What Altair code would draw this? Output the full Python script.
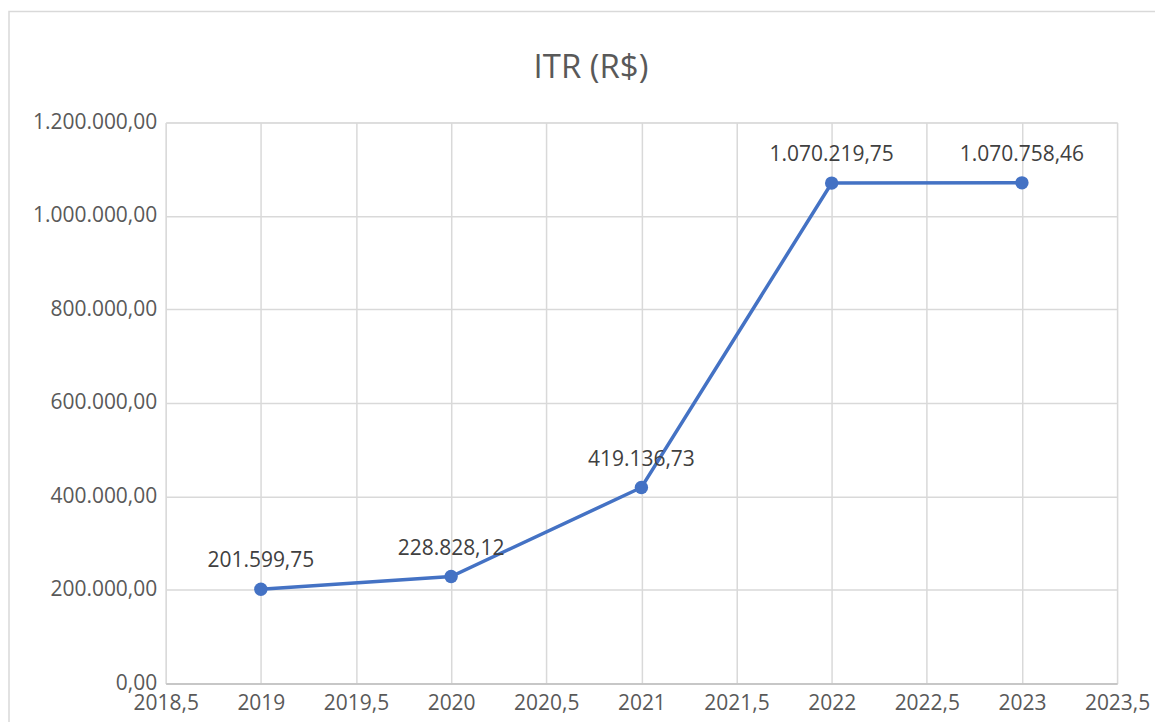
import altair as alt
import pandas as pd

years = [2019, 2020, 2021, 2022, 2023]
values = [201599.75, 228828.12, 419136.73, 1070219.75, 1070758.46]
labels = ["201.599,75", "228.828,12", "419.136,73", "1.070.219,75", "1.070.758,46"]
x_ticks = [2018.5, 2019, 2019.5, 2020, 2020.5, 2021, 2021.5, 2022, 2022.5, 2023, 2023.5]
y_ticks = [0, 200000, 400000, 600000, 800000, 1000000, 1200000]
title_text = "ITR (R$)"

df = pd.DataFrame({"ano": years, "valor": values, "rotulo": labels})

FONT = "Open Sans"
BLUE = "#4472C4"

x_enc = alt.X(
    "ano:Q",
    scale=alt.Scale(domain=[2018.5, 2023.5], nice=False, zero=False),
    axis=alt.Axis(
        values=x_ticks,
        title=None,
        labelExpr="replace(toString(datum.value), '.', ',')",
        labelFont=FONT,
        labelFontSize=21,
        labelColor="#595959",
        labelPadding=9,
        ticks=False,
        domain=True,
        domainColor="#bfbfbf",
        domainWidth=1.5,
        grid=True,
        gridColor="#d9d9d9",
        gridWidth=1.5,
        labelFlush=False,
        labelOverlap=False,
    ),
)
y_enc = alt.Y(
    "valor:Q",
    scale=alt.Scale(domain=[0, 1200000], nice=False),
    axis=alt.Axis(
        values=y_ticks,
        title=None,
        labelExpr="replace(replace(replace(format(datum.value, ',.2f'), regexp(',', 'g'), '_'), regexp('[.]', 'g'), ','), regexp('_', 'g'), '.')",
        labelFont=FONT,
        labelFontSize=21,
        labelColor="#595959",
        labelPadding=9,
        ticks=False,
        domain=False,
        grid=True,
        gridColor="#d9d9d9",
        gridWidth=1.5,
        labelOverlap=False,
    ),
)

base = alt.Chart(df)

line = base.mark_line(color=BLUE, strokeWidth=3.5).encode(x=x_enc, y=y_enc)
pts = base.mark_point(filled=True, color=BLUE, size=180, opacity=1).encode(x="ano:Q", y="valor:Q")
txt = base.mark_text(
    font=FONT, fontSize=21, color="#404040", dy=-28, baseline="middle", align="center"
).encode(x="ano:Q", y="valor:Q", text="rotulo:N")

frame_df = pd.DataFrame({"k": [0]})
frame = alt.Chart(frame_df).mark_rect(
    fill=None, stroke="#d9d9d9", strokeWidth=1.5
).encode(
    x=alt.value(-157), x2=alt.value(1100), y=alt.value(-111), y2=alt.value(700)
)
title = alt.Chart(frame_df).mark_text(
    font=FONT, fontSize=33, color="#595959", baseline="middle", align="center"
).encode(x=alt.value(426), y=alt.value(-54), text=alt.value(title_text))

chart = alt.layer(frame, line, pts, txt, title).properties(
    width=953,
    height=562,
    padding={"left": 158, "top": 114, "right": 38, "bottom": 38},
    autosize=alt.AutoSizeParams(type="none"),
).configure_view(stroke=None).configure(background="white")

chart.save("out.html", embed_options={"renderer": "svg", "actions": False})
